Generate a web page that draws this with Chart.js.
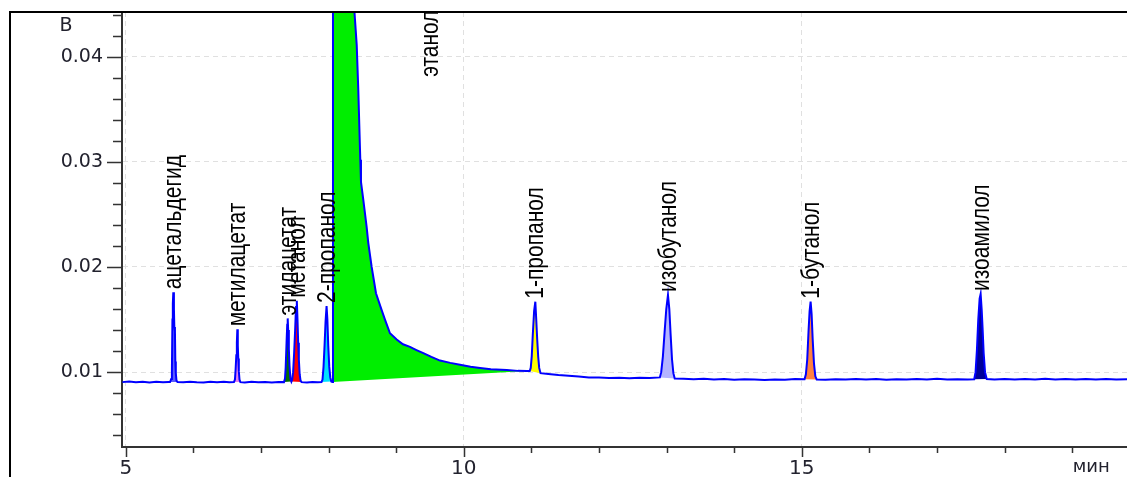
<!DOCTYPE html>
<html><head><meta charset="utf-8">
<script src="https://cdn.jsdelivr.net/npm/chart.js@4.4.1/dist/chart.umd.min.js"></script>
<style>
html,body{margin:0;padding:0;background:#fff;overflow:hidden;width:1127px;height:477px;}
#wrap{position:relative;width:1127px;height:477px;overflow:hidden;}
canvas{position:absolute;left:0;top:0;}
#frame{position:absolute;left:9px;top:11px;width:1130px;height:480px;border-top:2px solid #000;border-left:2px solid #000;pointer-events:none;}
</style></head><body>
<div id="wrap"><canvas id="c" width="1127" height="477"></canvas><div id="frame"></div></div>
<script>
// retention time (min)
const retentionTimes = [
 4.95,5.05,5.15,5.25,5.35,5.45,5.55,5.63,
 5.655,5.672,5.682,5.690,5.696,5.703,5.712,5.718,5.727,5.733,5.740,5.750,5.765,
 5.85,5.95,6.05,6.15,6.25,6.35,6.45,6.53,
 6.600,6.615,6.625,6.635,6.643,6.650,6.657,6.664,6.672,6.682,6.695,
 6.76,6.86,6.96,7.06,7.16,7.26,
 7.340,7.355,7.365,7.378,7.388,7.395,7.402,7.412,7.422,7.435,7.450,
 7.462,7.475,7.490,7.505,7.518,7.530,7.540,7.550,7.560,7.572,7.585,7.600,
 7.68,7.76,7.84,
 7.895,7.910,7.925,7.940,7.955,7.970,7.982,7.995,8.010,8.025,8.040,
 8.055,8.065,8.100,8.300,8.380,8.416,8.439,8.454,8.469,8.479,8.513,8.563,8.587,8.637,8.701,8.785,8.834,8.908,9.007,9.100,9.204,9.300,9.401,9.520,9.648,9.800,9.944,10.100,10.240,10.400,10.635,10.800,10.930,
 10.975,10.990,11.005,11.020,11.040,11.058,11.070,11.085,11.100,11.115,11.135,
 11.25,11.40,11.55,11.70,11.85,12.00,12.15,12.30,12.45,12.60,12.75,
 12.900,12.920,12.945,12.970,12.995,13.020,13.040,13.060,13.080,13.100,13.120,
 13.25,13.40,13.55,13.70,13.85,14.00,14.15,14.30,14.45,14.60,14.75,14.90,
 15.040,15.060,15.080,15.100,15.115,15.130,15.145,15.160,15.180,15.200,15.220,
 15.35,15.50,15.65,15.80,15.95,16.10,16.25,16.40,16.55,16.70,16.85,17.00,17.15,17.30,17.45,
 17.550,17.570,17.590,17.610,17.630,17.645,17.660,17.675,17.690,17.710,17.735,
 17.85,18.00,18.15,18.30,18.45,18.60,18.75,18.90,19.05,19.20,19.35,19.50,19.65,19.85
];
// detector signal (V)
const detectorSignal = [
 0.00905,0.00910,0.00903,0.00908,0.00902,0.00909,0.00904,0.00907,
 0.00906,0.00935,0.0100,0.0150,0.0165,0.0176,0.0160,0.0143,0.0139,0.0110,0.0099,0.0092,0.00906,
 0.00903,0.00909,0.00904,0.00902,0.00908,0.00904,0.00909,0.00903,
 0.00906,0.0093,0.0103,0.0116,0.0128,0.01407,0.0125,0.0113,0.0101,0.0093,0.00905,
 0.00902,0.00908,0.00903,0.00907,0.00901,0.00906,
 0.00905,0.0094,0.0104,0.0128,0.0145,0.01511,0.0140,0.0122,0.0106,0.0094,0.0091,
 0.0093,0.0100,0.0118,0.0140,0.0162,0.01679,0.0150,0.0128,0.0112,0.0098,0.0092,0.00905,
 0.00902,0.00907,0.00903,
 0.00905,0.0093,0.0105,0.0125,0.0148,0.01629,0.0150,0.0125,0.0105,0.0095,0.0091,
 0.00905,0.0600,0.2000,0.1200,0.0445,0.0411,0.0369,0.0335,0.0302,0.0281,0.0264,0.0238,0.0223,0.0200,0.0175,0.0159,0.0150,0.0137,0.0131,0.01265,0.0124,0.0121,0.0118,0.01145,0.0111,0.01088,0.0107,0.01052,0.0104,0.01028,0.0102,0.01012,0.0101,
 0.0101,0.0104,0.0115,0.0135,0.0158,0.0167,0.0152,0.0132,0.0115,0.0104,0.0099,
 0.00982,0.00972,0.00966,0.00958,0.00950,0.00948,0.00944,0.00946,0.00942,0.00947,0.00945,
 0.00950,0.0100,0.0115,0.0138,0.0160,0.01733,0.0160,0.0135,0.0112,0.0099,0.0094,
 0.00937,0.00933,0.00938,0.00930,0.00935,0.00927,0.00933,0.00929,0.00925,0.00931,0.00928,0.00934,
 0.00932,0.0098,0.0112,0.0140,0.0158,0.0167,0.0155,0.0132,0.0108,0.0096,0.00930,
 0.00928,0.00933,0.00929,0.00935,0.00930,0.00934,0.00928,0.00933,0.00929,0.00935,0.00931,0.00936,0.00930,0.00933,0.00929,
 0.00932,0.0100,0.0121,0.0150,0.0170,0.01743,0.0160,0.0140,0.0118,0.0100,0.00935,
 0.00930,0.00934,0.00929,0.00935,0.00931,0.00936,0.00930,0.00934,0.00929,0.00935,0.00931,0.00934,0.00929,0.00932
];
const peakNames  = ['ацетальдегид','метилацетат','этилацетат','метанол','2-пропанол','этанол','1-пропанол','изобутанол','1-бутанол','изоамилол'];
const peakStart  = [5.655, 6.600, 7.340, 7.450, 7.895, 8.055, 10.975, 12.900, 15.040, 17.550];
const peakEnd    = [5.765, 6.695, 7.450, 7.600, 8.040, 10.930, 11.135, 13.120, 15.220, 17.735];
const labelTimes = [5.703, 6.650, 7.395, 7.530, 7.970, 9.50, 11.058, 13.020, 15.130, 17.645];
const labelValues= [0.0176, 0.01407, 0.01511, 0.01679, 0.01629, 0.0378, 0.0167, 0.01733, 0.0167, 0.01743];
const peakColors = ['#5a5aff','#e680ec','#006e00','#ff0000','#00e0ff','#00ee00','#ffff00','#b4b4ff','#ff8040','#000099'];
const xTickValues = [5,6,7,8,9,10,11,12,13,14,15,16,17,18,19];
const xLabelled   = [5,10,15];
const yTickValues = [0.004,0.006,0.008,0.010,0.012,0.014,0.016,0.018,0.020,0.022,0.024,0.026,0.028,0.030,0.032,0.034,0.036,0.038,0.040,0.042,0.044];
const yLabelled   = [0.01,0.02,0.03,0.04];

const isYMajor = v => yLabelled.some(m => Math.abs(m - v) < 1e-9);
const isXMajor = v => xLabelled.includes(v);
const AXIS_TEXT = '#22222e';

const signalPoints = retentionTimes.map((t, i) => ({x: t, y: detectorSignal[i]}));
const peakDatasets = peakNames.map((name, k) => ({
  label: name,
  data: signalPoints.filter(p => p.x >= peakStart[k] - 1e-9 && p.x <= peakEnd[k] + 1e-9),
  borderWidth: 0,
  pointRadius: 0,
  backgroundColor: peakColors[k],
  fill: 'shape',
  tension: 0
}));

const decor = {
  id: 'decor',
  afterDraw(chart) {
    const {ctx, chartArea: a, scales: {x, y}} = chart;
    ctx.save();
    ctx.strokeStyle = '#333';
    ctx.lineWidth = 1.5;
    ctx.beginPath();
    for (const v of xTickValues) {
      const px = Math.round(x.getPixelForValue(v)) + 0.5;
      ctx.moveTo(px, a.bottom);
      ctx.lineTo(px, a.bottom + (isXMajor(v) ? 10 : 6));
    }
    for (const v of yTickValues) {
      const py = Math.round(y.getPixelForValue(v)) + 0.5;
      ctx.moveTo(a.left, py);
      ctx.lineTo(a.left - (isYMajor(v) ? 15 : 9), py);
    }
    ctx.stroke();
    // peak labels
    ctx.fillStyle = '#000';
    ctx.font = '21px "Liberation Sans", Arial, sans-serif';
    ctx.textAlign = 'left';
    ctx.textBaseline = 'middle';
    peakNames.forEach((name, i) => {
      const px = x.getPixelForValue(labelTimes[i]) + 1;
      const py = y.getPixelForValue(labelValues[i]) - 3;
      ctx.save();
      ctx.translate(px, py);
      ctx.scale(1.2, 1);
      ctx.rotate(-Math.PI / 2);
      ctx.fillText(name, 0, 0);
      ctx.restore();
    });
    // axis units
    ctx.fillStyle = AXIS_TEXT;
    ctx.font = '19px "DejaVu Sans", sans-serif';
    ctx.textAlign = 'center';
    ctx.textBaseline = 'middle';
    ctx.fillText('В', a.left - 56, a.top + 14);
    ctx.font = '18px "DejaVu Sans", sans-serif';
    ctx.textBaseline = 'alphabetic';
    ctx.fillText('мин', x.getPixelForValue(19.28), a.bottom + 25);
    ctx.restore();
  }
};

new Chart(document.getElementById('c'), {
  type: 'line',
  data: {
    datasets: [
      {label: 'сигнал', data: signalPoints, borderColor: '#0000ff', borderWidth: 2, pointRadius: 0, fill: false, tension: 0},
      ...peakDatasets
    ]
  },
  options: {
    responsive: false,
    animation: false,
    devicePixelRatio: 1,
    layout: {padding: {top: 12, left: 0, right: 0, bottom: 0}},
    plugins: {legend: {display: false}, tooltip: {enabled: false}, title: {display: false}},
    scales: {
      x: {
        type: 'linear', min: 4.944, max: 19.81,
        afterBuildTicks: s => { s.ticks = xTickValues.map(v => ({value: v})); },
        afterFit: s => { s.height = 30; s.paddingLeft = 0; s.paddingRight = 0; },
        ticks: {
          autoSkip: false, maxRotation: 0, padding: 10, color: AXIS_TEXT,
          font: {family: '"DejaVu Sans", sans-serif', size: 20},
          callback: v => isXMajor(v) ? String(v) : ''
        },
        grid: {drawTicks: false, lineWidth: 1, color: c => (c.tick && isXMajor(c.tick.value)) ? '#e0e0e0' : 'rgba(0,0,0,0)'},
        border: {display: true, color: '#333', width: 2, dash: [5, 4]}
      },
      y: {
        type: 'linear', min: 0.00288, max: 0.04425,
        afterBuildTicks: s => { s.ticks = yTickValues.map(v => ({value: v})); },
        afterFit: s => { s.width = 122; s.paddingTop = 0; s.paddingBottom = 0; },
        ticks: {
          autoSkip: false, padding: 19, color: AXIS_TEXT,
          font: {family: '"DejaVu Sans", sans-serif', size: 19},
          callback: v => isYMajor(v) ? v.toFixed(2) : ''
        },
        grid: {drawTicks: false, lineWidth: 1, color: c => (c.tick && isYMajor(c.tick.value)) ? '#e0e0e0' : 'rgba(0,0,0,0)'},
        border: {display: true, color: '#333', width: 2, dash: [5, 4]}
      }
    }
  },
  plugins: [decor]
});
</script>
</body></html>
